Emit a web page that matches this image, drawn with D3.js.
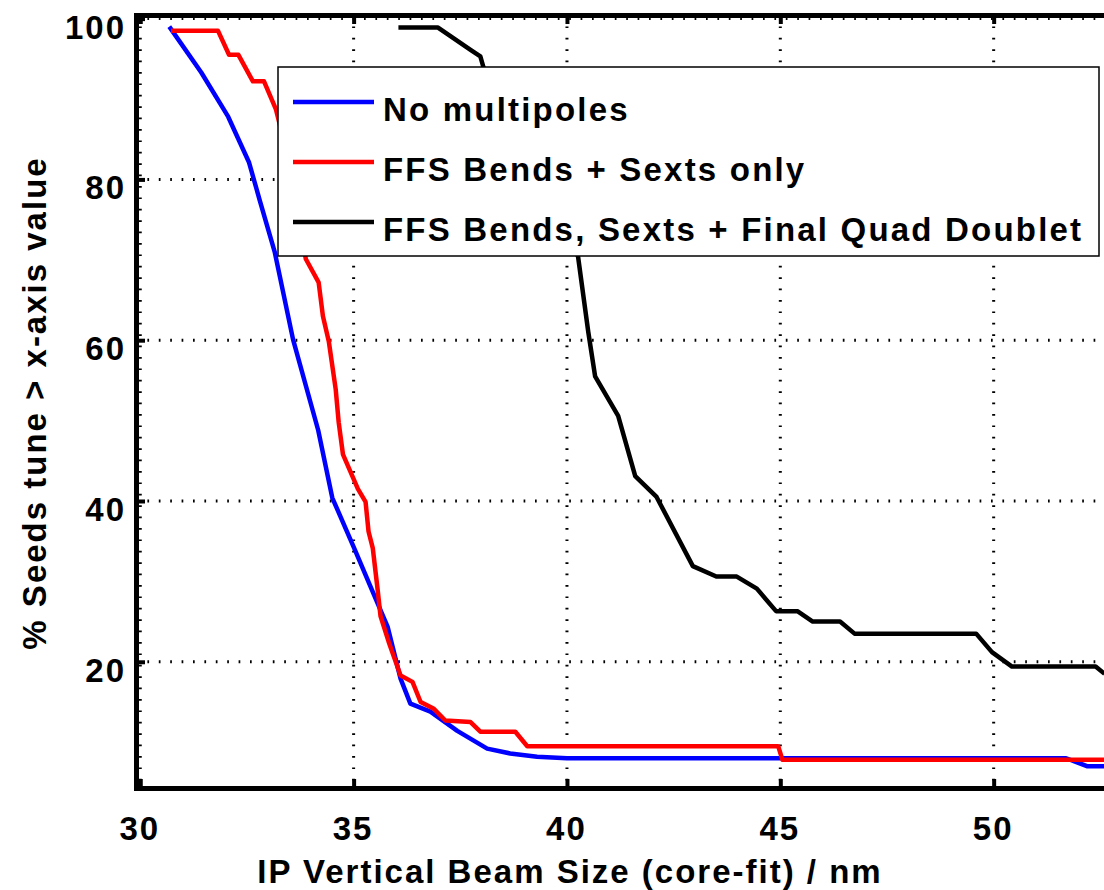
<!DOCTYPE html>
<html>
<head>
<meta charset="utf-8">
<script src="https://cdn.jsdelivr.net/npm/d3@7"></script>
<style>
body { margin: 0; background: #fff; }
text { font-family: "Liberation Sans", Arial, sans-serif; font-weight: bold; font-size: 33px; letter-spacing: 2px; fill: #000; }
</style>
</head>
<body>
<script>
// tick values
const xTicks = [30, 35, 40, 45, 50];
const yTicks = [20, 40, 60, 80, 100];

const seriesNames = ["No multipoles", "FFS Bends + Sexts only", "FFS Bends, Sexts + Final Quad Doublet"];
const seriesColors = ["#0000ff", "#ff0000", "#000000"];

// [beam size nm, % seeds]
const noMultipoles = [
    [30.68, 99], [31.43, 93.3], [32.06, 87.8], [32.55, 82.1], [32.8, 77.4], [33.15, 71],
    [33.58, 60.1], [34.17, 48.8], [34.5, 40.4], [35.0, 34.3], [35.8, 24.3], [36.1, 17.9],
    [36.33, 14.8], [36.8, 13.8], [37.43, 11.4], [38.13, 9.2], [38.67, 8.6], [39.3, 8.2],
    [40.0, 8.0], [51.7, 8.0], [52.2, 7.0], [52.6, 7.0]
];
const bendsSexts = [
    [30.72, 98.5], [31.82, 98.5], [32.08, 95.5], [32.3, 95.5], [32.64, 92.2], [32.9, 92.2],
    [33.18, 88.7], [33.45, 83], [33.65, 77], [33.88, 70.1], [34.18, 67.2], [34.28, 63],
    [34.42, 59.8], [34.58, 53.9], [34.65, 49.8], [34.75, 45.8], [35.1, 41.5], [35.28, 39.9],
    [35.35, 36.2], [35.45, 34.1], [35.56, 29.1], [35.63, 25.7], [35.82, 22.5], [36.1, 18.3],
    [36.38, 17.5], [36.57, 15.0], [36.87, 14.2], [37.15, 12.7], [37.74, 12.5], [37.97, 11.3],
    [38.79, 11.3], [39.07, 9.5], [44.95, 9.5], [45.05, 7.8], [52.6, 7.8]
];
const bendsSextsQuads = [
    [36.05, 98.9], [36.97, 98.9], [37.74, 96.1], [37.97, 95.3], [38.04, 94.0], [38.6, 87],
    [39.3, 80], [39.9, 75], [40.26, 70.4], [40.5, 61], [40.66, 55.5], [41.2, 50.6],
    [41.6, 43.1], [42.1, 40.5], [42.95, 31.9], [43.5, 30.6], [43.98, 30.6], [44.45, 29.1],
    [44.9, 26.3], [45.4, 26.3], [45.76, 25.0], [46.4, 25.0], [46.74, 23.5], [49.59, 23.5],
    [49.96, 21.2], [50.43, 19.4], [52.39, 19.4], [52.6, 18.5]
];
const allSeries = [noMultipoles, bendsSexts, bendsSextsQuads];

const w = 1104, h = 890;
const plotLeft = 136, plotRight = 1104.6, plotTop = 15, plotBottom = 788;

const xScale = d3.scaleLinear().domain([29.9, 52.6]).range([plotLeft, plotRight]);
const yScale = d3.scaleLinear().domain([4.3, 100.45]).range([plotBottom, plotTop]);

const svg = d3.select("body").append("svg")
    .attr("width", w)
    .attr("height", h);

svg.append("clipPath").attr("id", "plotClip")
    .append("rect")
    .attr("x", plotLeft).attr("y", plotTop)
    .attr("width", plotRight - plotLeft).attr("height", plotBottom - plotTop);

// dotted grid
svg.append("g").selectAll("line")
    .data(xTicks)
    .enter()
    .append("line")
    .attr("x1", d => xScale(d)).attr("x2", d => xScale(d))
    .attr("y1", plotTop).attr("y2", plotBottom)
    .attr("stroke", "#000").attr("stroke-width", 3)
    .attr("stroke-dasharray", "1.7,9.7");
svg.append("g").selectAll("line")
    .data(yTicks)
    .enter()
    .append("line")
    .attr("x1", plotLeft).attr("x2", plotRight)
    .attr("y1", d => yScale(d)).attr("y2", d => yScale(d))
    .attr("stroke", "#000").attr("stroke-width", 3)
    .attr("stroke-dasharray", "1.7,9.7");

// curves
const line = d3.line()
    .x(d => xScale(d[0]))
    .y(d => yScale(d[1]));

svg.append("g").attr("clip-path", "url(#plotClip)")
    .selectAll("path")
    .data(allSeries)
    .enter()
    .append("path")
    .attr("d", line)
    .attr("fill", "none")
    .attr("stroke", (d, i) => seriesColors[i])
    .attr("stroke-width", 4.5)
    .attr("stroke-linejoin", "round");

// axes
function styleAxis(g) {
    g.select(".domain").attr("stroke-width", 5).attr("stroke-linecap", "square");
    g.selectAll(".tick line").attr("stroke-width", 4);
    g.selectAll(".tick text").attr("font-family", null).attr("font-size", null);
}

const xAxis = svg.append("g")
    .attr("transform", "translate(0," + plotBottom + ")")
    .call(d3.axisBottom(xScale).tickValues(xTicks).tickSizeInner(-9).tickSizeOuter(0))
    .call(styleAxis);
xAxis.selectAll(".tick text").attr("y", 52).attr("dy", null).attr("dx", "-1");

svg.append("g")
    .attr("transform", "translate(0," + plotTop + ")")
    .call(d3.axisTop(xScale).tickValues(xTicks).tickSizeInner(-9).tickSizeOuter(0).tickFormat(""))
    .call(styleAxis);

const yAxis = svg.append("g")
    .attr("transform", "translate(" + plotLeft + ",0)")
    .call(d3.axisLeft(yScale).tickValues(yTicks).tickSizeInner(-9).tickSizeOuter(0))
    .call(styleAxis);
yAxis.selectAll(".tick text").attr("x", -10).attr("y", 8).attr("dy", "0.35em");

// axis titles
svg.append("text")
    .attr("x", 570).attr("y", 883)
    .attr("text-anchor", "middle")
    .text("IP Vertical Beam Size (core-fit) / nm");
svg.append("text")
    .attr("transform", "translate(46,403) rotate(-90)")
    .attr("text-anchor", "middle")
    .text("% Seeds tune > x-axis value");

// legend
const legend = svg.append("g");
legend.append("rect")
    .attr("x", 278).attr("y", 67)
    .attr("width", 821).attr("height", 189)
    .attr("fill", "#fff").attr("stroke", "#000").attr("stroke-width", 1.5);
const rows = legend.selectAll("g.row")
    .data(seriesNames)
    .enter()
    .append("g")
    .attr("class", "row")
    .attr("transform", (d, i) => "translate(0," + (102 + i * 60) + ")");
rows.append("line")
    .attr("x1", 293).attr("x2", 374)
    .attr("stroke", (d, i) => seriesColors[i])
    .attr("stroke-width", 4.5);
rows.append("text")
    .attr("x", 383).attr("y", 19)
    .style("letter-spacing", "2.2px")
    .text(d => d);
</script>
</body>
</html>
